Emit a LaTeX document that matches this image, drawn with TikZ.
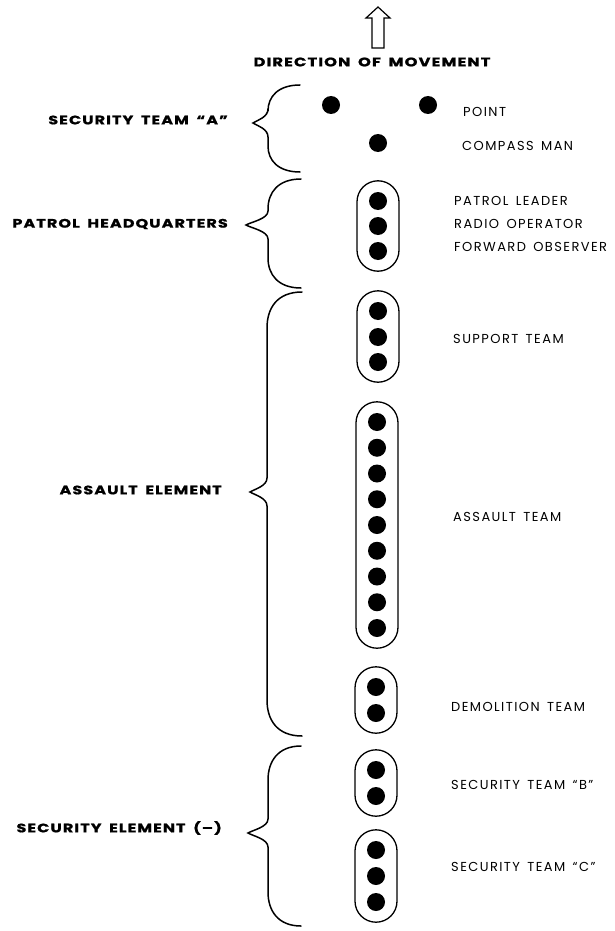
\documentclass[tikz,border=0pt]{standalone}
\usepackage{fontspec}
\setmainfont{Poppins}
\usetikzlibrary{fit}
\newfontfamily\grpfont{Poppins}[FakeStretch=1.3, LetterSpace=9, WordSpace=1.7, FakeBold=1.2]
\newfontfamily\rolefont{Poppins}[LetterSpace=11, WordSpace=1.5]
\tikzset{
  man/.style={circle, fill=black, inner sep=0pt, minimum size=18pt},
  capsule/.style={draw, line width=1.3pt, rounded corners=21pt, inner sep=11pt, minimum width=42pt},
  role/.style={anchor=west, font=\rolefont\fontsize{13}{15}\selectfont, inner sep=0pt},
  grp/.style={anchor=east, font=\grpfont\bfseries\fontsize{12.3}{14}\selectfont, inner sep=0pt},
  bracel/.style={line width=1.5pt, line cap=round},
}
% xr, xl, xtip, ytop, ymid, ybot, r
\newcommand{\mybrace}[7]{%
  \draw[bracel] (#1,#4) .. controls (#2+10,#4) and (#2,#4+#7*0.45) .. (#2,#4+#7)
    -- (#2,#5-14) .. controls (#2,#5-6) and (#3+5,#5-3) .. (#3,#5)
    .. controls (#3+5,#5+3) and (#2,#5+6) .. (#2,#5+14)
    -- (#2,#6-#7) .. controls (#2,#6-#7*0.45) and (#2+10,#6) .. (#1,#6);}
\begin{document}
\begin{tikzpicture}[x=1pt, y=-1pt]
\useasboundingbox (0,0) rectangle (614,931);
% arrow
\draw[line width=1.2pt, line join=miter] (372,48) -- (372,18) -- (366,18) -- (378,7) -- (390,18) -- (384,18) -- (384,48) -- cycle;
\node[font=\grpfont\bfseries\fontsize{12.5}{14}\selectfont, inner sep=0pt] (dir) at (372,62) {DIRECTION OF MOVEMENT};
% security team A
\node[man] (p1) at (331,105) {};
\node[man] (p2) at (428,105) {};
\node[man] (cm) at (378,143) {};
\node[role] (lp) at (463,112) {POINT};
\node[role] (lcm) at (462,146) {COMPASS MAN};
% HQ
\node[man] (h1) at (378,201) {};
\node[man] (h2) at (378,226) {};
\node[man] (h3) at (378,251) {};
\node[capsule, fit=(h1)(h3)] (hq) {};
\node[role] (lh1) at (454,201) {PATROL LEADER};
\node[role] (lh2) at (454,224) {RADIO OPERATOR};
\node[role] (lh3) at (454,247) {FORWARD OBSERVER};
% support
\node[man] (s1) at (378,311) {};
\node[man] (s2) at (378,337) {};
\node[man] (s3) at (378,362) {};
\node[capsule, fit=(s1)(s3)] (sup) {};
\node[role] (ls) at (453,339) {SUPPORT TEAM};
% assault
\foreach \i in {0,...,8} {\node[man] (a\i) at (377,422+25.75*\i) {};}
\node[capsule, fit=(a0)(a8)] (asl) {};
\node[role] (la) at (453,517) {ASSAULT TEAM};
% demolition
\node[man] (d1) at (376,687) {};
\node[man] (d2) at (376,713) {};
\node[capsule, fit=(d1)(d2)] (dem) {};
\node[role] (ld) at (451,707) {DEMOLITION TEAM};
% security B
\node[man] (b1) at (376,770) {};
\node[man] (b2) at (376,796) {};
\node[capsule, fit=(b1)(b2)] (secb) {};
\node[role] (lb) at (451,785) {SECURITY TEAM “B”};
% security C
\node[man] (c1) at (376,850) {};
\node[man] (c2) at (376,876) {};
\node[man] (c3) at (376,902) {};
\node[capsule, fit=(c1)(c3)] (secc) {};
\node[role] (lc) at (451,867) {SECURITY TEAM “C”};
% braces
\mybrace{300}{268}{253}{85}{123}{172}{26}
\mybrace{301}{268}{246}{179}{225}{288}{30}
\mybrace{302}{267}{250}{292}{492}{736}{36}
\mybrace{301}{268}{248}{746}{833}{926}{34}
% group labels
\node[grp] (ga) at (228,120) {SECURITY TEAM “A”};
\node[grp] (gh) at (228,224) {PATROL HEADQUARTERS};
\node[grp] (gae) at (222,490) {ASSAULT ELEMENT};
\node[grp] (gse) at (222,828) {SECURITY ELEMENT (–)};
\end{tikzpicture}
\end{document}
